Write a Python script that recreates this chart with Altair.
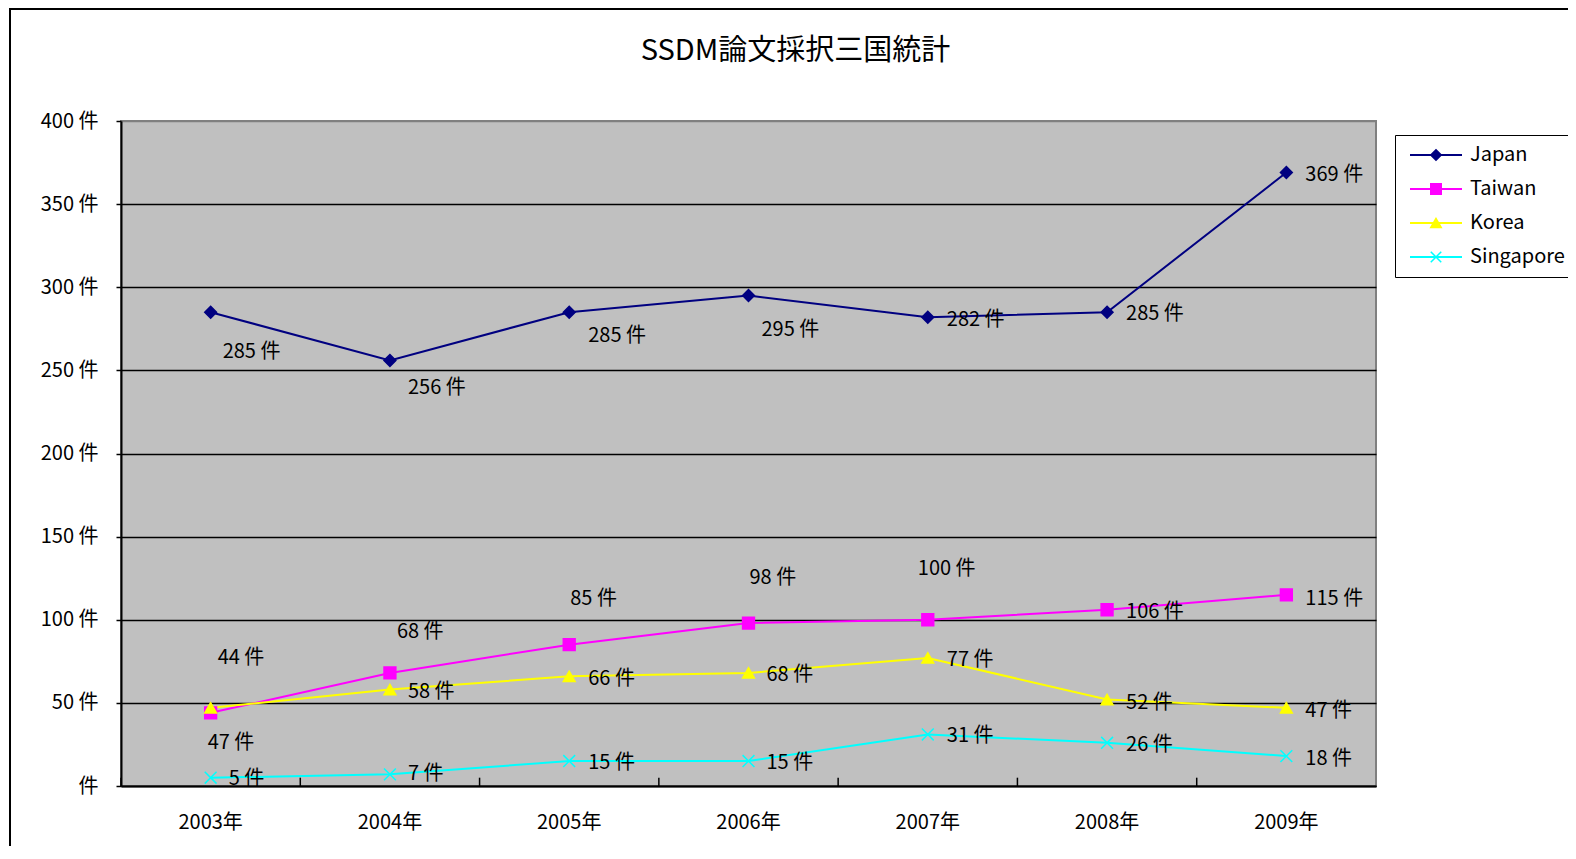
import altair as alt
import pandas as pd

# ---- data ----
years = ["2003年", "2004年", "2005年", "2006年", "2007年", "2008年", "2009年"]
countries = ["Japan", "Taiwan", "Korea", "Singapore"]
japan = [285, 256, 285, 295, 282, 285, 369]
taiwan = [44, 68, 85, 98, 100, 106, 115]
korea = [47, 58, 66, 68, 77, 52, 47]
singapore = [5, 7, 15, 15, 31, 26, 18]
y_ticks = [0, 50, 100, 150, 200, 250, 300, 350, 400]

# ---- styling ----
colors = ["#000080", "#FF00FF", "#FFFF00", "#00FFFF"]
shapes = ["diamond", "square", "triangle-up", "M-1,-1L1,1M-1,1L1,-1"]

# data-label placement offsets (pixels from each point), as placed in the original
label_dx = {
    "Japan": [12, 18, 19, 13, 19, 19, 19],
    "Taiwan": [7, 7, 1, 1, -10, 19, 19],
    "Korea": [-3, 18, 19, 18, 19, 19, 19],
    "Singapore": [18, 18, 19, 18, 19, 19, 19],
}
label_dy = {
    "Japan": [40, 28, 24, 34, 3, 2, 2],
    "Taiwan": [-55, -41, -46, -45, -51, 2, 4],
    "Korea": [35, 2, 3, 2, 2, 3, 3],
    "Singapore": [1, 0, 2, 2, 2, 2, 3],
}

FONT = "Liberation Sans Narrow, Noto Sans CJK JP"
TFONT = "Noto Sans CJK JP"

series = {"Japan": japan, "Taiwan": taiwan, "Korea": korea, "Singapore": singapore}
rows = []
for c in countries:
    for i, y in enumerate(years):
        v = series[c][i]
        rows.append({"country": c, "year": y, "value": v, "label": f"{v} 件",
                     "dx": label_dx[c][i], "dy": label_dy[c][i]})
df = pd.DataFrame(rows)
years_df = pd.DataFrame({"year": years})
frame_df = pd.DataFrame({"k": [0]})

xscale = alt.Scale(type="band", domain=years, paddingInner=0, paddingOuter=0)
yscale = alt.Scale(domain=[0, 400], nice=False)
cscale = alt.Scale(domain=countries, range=colors)
sscale = alt.Scale(domain=countries, range=shapes)

X = alt.X("year:N", scale=xscale, sort=years,
          axis=alt.Axis(title=None, labelAngle=0, ticks=False, grid=False,
                        domainColor="black", domainWidth=2, labelFontSize=20,
                        labelPadding=26, labelFont=FONT, labelColor="black"))
Y = alt.Y("value:Q", scale=yscale,
          axis=alt.Axis(title=None, values=y_ticks,
                        labelExpr="datum.value == 0 ? '件' : datum.value + ' 件'",
                        grid=True,
                        gridColor={"condition": {"test": "datum.value >= 400", "value": "#808080"},
                                   "value": "black"},
                        gridWidth=1.5, tickSize=5, tickColor="black", tickWidth=1.5,
                        domainColor="black", domainWidth=2, labelFontSize=20,
                        labelPadding=18, labelFont=FONT, labelColor="black"))

LEGX, LEGY = 1274, 14
leg_lines = alt.Legend(orient="none", legendX=LEGX, legendY=LEGY, title=None,
                       symbolType="M-5.2,0H5.2", symbolSize=100, symbolStrokeWidth=2,
                       symbolOffset=21, labelOffset=24,
                       labelFont=FONT, labelFontSize=20, labelColor="black",
                       strokeColor="black", fillColor="white", padding=10,
                       rowPadding=14)
leg_pts = alt.Legend(orient="none", legendX=LEGX, legendY=LEGY, title=None,
                     symbolSize=110, symbolStrokeWidth=1.5,
                     symbolOffset=21, labelOffset=24,
                     labelFont=FONT, labelFontSize=20, labelColor="transparent",
                     strokeColor="transparent", padding=10, rowPadding=14)

frame = alt.Chart(frame_df).mark_rect(fill="transparent", stroke="black", strokeWidth=2).encode(
    x=alt.value(-111), x2=alt.value(3000), y=alt.value(-112), y2=alt.value(3000))

base = alt.Chart(df)
lines = base.mark_line(strokeWidth=2).encode(
    x=X, y=Y, color=alt.Color("country:N", scale=cscale, legend=leg_lines), detail="country:N")
points = base.mark_point(filled=True, size=140, strokeWidth=1.5, opacity=1).encode(
    x=X, y=Y,
    color=alt.Color("country:N", scale=cscale, legend=leg_pts),
    shape=alt.Shape("country:N", scale=sscale, legend=leg_pts),
    stroke=alt.Stroke("country:N", scale=cscale, legend=leg_pts))

# data labels: one text layer per distinct placement offset
pairs = sorted(set(zip(df["dx"], df["dy"])))
text_layers = []
for dx, dy in pairs:
    text_layers.append(
        base.transform_filter(f"datum.dx == {dx} && datum.dy == {dy}")
        .mark_text(align="left", baseline="middle", fontSize=20, font=FONT,
                   color="black", dx=int(dx), dy=int(dy))
        .encode(x=X, y=Y, text="label:N")
    )

ticks = alt.Chart(years_df).mark_rule(color="black", strokeWidth=1.5).encode(
    x=alt.X("year:N", scale=xscale, bandPosition=0), y=alt.datum(0), y2=alt.datum(5))

chart = alt.layer(frame, lines, points, *text_layers, ticks).resolve_legend(
    color="independent", shape="independent", stroke="independent"
).properties(
    width=1255, height=665,
    autosize=alt.AutoSizeParams(type="none"),
    padding={"left": 113, "top": 113, "right": 192, "bottom": 60},
    title=alt.TitleParams("SSDM論文採択三国統計", fontSize=29, font=TFONT,
                          fontWeight="normal", anchor="middle", frame="group",
                          dx=47, offset=-58, color="black"),
    background="white",
).configure_view(fill="#C0C0C0", stroke="#808080", strokeWidth=2)

chart.save("out.html", embed_options={"renderer": "svg", "actions": False})
